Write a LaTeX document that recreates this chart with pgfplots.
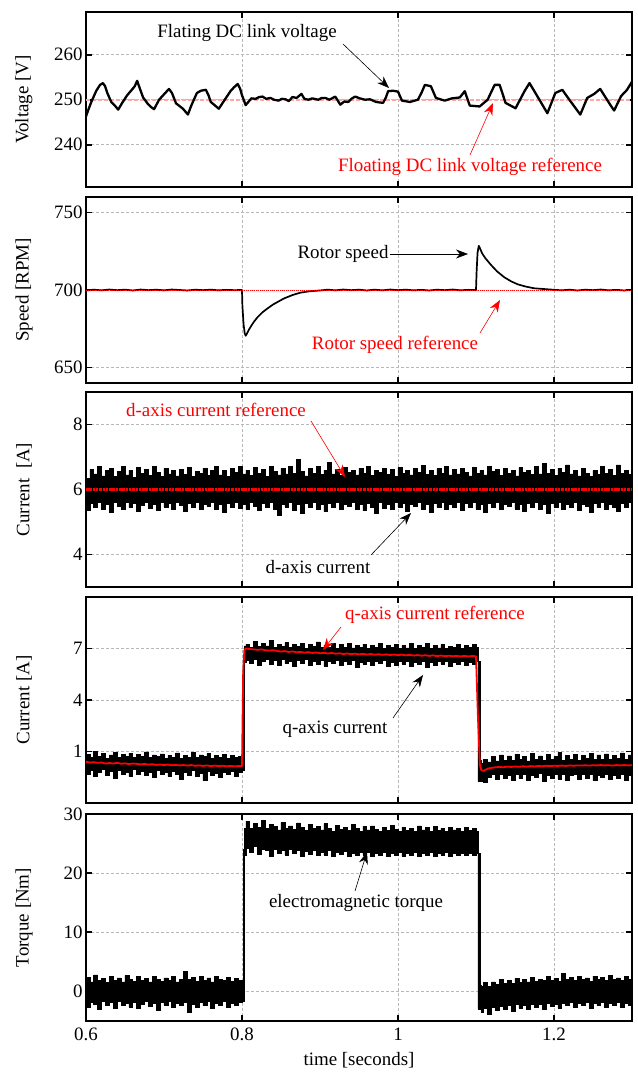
\documentclass[border=0pt]{standalone}
\usepackage{fontspec}
\setmainfont{Liberation Serif}
\usepackage{pgfplots}
\pgfplotsset{compat=1.18}
\usepackage{pgfplotstable}
\usetikzlibrary{arrows.meta}
\newcommand\fs{\fontsize{19}{22}\selectfont}

\pgfplotstableread{
t v
0.600 246.3
0.6035 248
0.6068 249.5
0.6132 252
0.618 253.3
0.6218 253.7
0.6245 253
0.6273 251.5
0.6324 249.5
0.637 248.7
0.6413 247.8
0.6464 249.3
0.6528 251
0.6592 252.3
0.6625 253
0.6656 254.2
0.669 252.5
0.6732 250.5
0.6796 249
0.684 248.3
0.6873 247.9
0.6937 250
0.700 251.2
0.7064 252.4
0.7102 251.5
0.7154 249.2
0.7243 248
0.7307 246.7
0.7345 248.5
0.7383 250
0.7422 251.5
0.7473 252
0.7537 252.2
0.757 251
0.760 249.5
0.7703 248
0.7779 250
0.7856 252
0.790 252.8
0.7945 253.5
0.7975 252.5
0.800 251
0.8047 248.8
0.8086 249.6
0.812 250.3
0.8175 250.2
0.822 250.6
0.8264 250.7
0.831 250.2
0.8366 250.4
0.841 250.0
0.8469 249.8
0.851 250.2
0.8558 250.1
0.860 249.7
0.8647 250.6
0.870 250.4
0.8762 251.3
0.880 250.2
0.8852 250.0
0.890 250.3
0.8979 250.0
0.9025 250.4
0.9069 250.4
0.912 250.0
0.9196 250.7
0.926 248.9
0.931 249.6
0.9362 249.5
0.941 250.3
0.9452 250.7
0.951 250.3
0.9579 250.0
0.964 250.1
0.972 249.5
0.9809 249.3
0.9845 250.5
0.9873 251.9
0.9936 252.0
1.000 251.8
1.0051 249.8
1.0153 249.5
1.0255 250.0
1.030 251.5
1.0345 253.3
1.0422 253.0
1.0486 250.4
1.060 249.8
1.069 250.3
1.0792 250.5
1.0856 251.9
1.092 248.7
1.1047 248.5
1.1149 250.0
1.1239 253.3
1.1303 253.3
1.1379 249.3
1.1507 248.1
1.1622 251.9
1.1686 253.7
1.1813 250.0
1.1915 247.0
1.2017 251.5
1.2107 252.2
1.2197 250.0
1.2337 246.7
1.2426 250.4
1.2516 251.3
1.2592 252.4
1.2720 248.9
1.2771 247.6
1.2860 250.8
1.2936 252.2
1.300 254.0
}\vtab

\pgfplotstableread{
t s
0.600 699.7
0.610 700.2
0.620 699.8
0.630 700.3
0.640 699.9
0.650 700.2
0.660 699.7
0.670 700.3
0.680 699.9
0.690 700.2
0.700 699.8
0.710 700.3
0.720 700.0
0.730 699.7
0.740 700.2
0.750 699.9
0.760 700.2
0.770 699.8
0.780 700.1
0.790 699.9
0.800 700.0
0.8005 690
0.802 678
0.8035 672
0.8047 670.5
0.806 671.5
0.809 674.5
0.812 677
0.8153 679.5
0.820 682.5
0.826 685.5
0.8324 688
0.840 690.7
0.8536 694.5
0.865 696.8
0.8749 698.3
0.887 699.2
0.900 699.7
0.910 700.2
0.920 699.8
0.930 700.3
0.940 699.9
0.950 700.2
0.960 699.7
0.970 700.2
0.980 699.8
0.990 700.3
1.000 699.9
1.010 700.2
1.020 699.8
1.030 700.1
1.040 699.7
1.050 700.2
1.060 699.9
1.070 700.3
1.080 699.8
1.090 700.1
1.100 699.9
1.1008 712
1.102 724
1.1035 728.5
1.105 727
1.108 723.5
1.112 720.5
1.1192 716.2
1.127 712
1.1363 708.2
1.145 705.6
1.1533 703.7
1.163 702.3
1.1746 701.1
1.1958 700.3
1.210 699.8
1.220 700.2
1.230 699.7
1.240 700.2
1.250 699.9
1.260 700.3
1.270 699.8
1.280 700.1
1.290 699.7
1.300 700.2
}\stab

\pgfplotstableread{
t u l
0.600 6.35 5.35
0.605 6.62 5.58
0.610 6.48 5.45
0.615 6.70 5.62
0.620 6.42 5.40
0.625 6.58 5.55
0.630 6.66 5.30
0.635 6.40 5.60
0.640 6.55 5.48
0.645 6.72 5.38
0.650 6.45 5.62
0.655 6.60 5.44
0.660 6.38 5.57
0.665 6.68 5.33
0.670 6.50 5.52
0.675 6.62 5.60
0.680 6.44 5.42
0.685 6.70 5.56
0.690 6.52 5.36
0.695 6.40 5.60
0.700 6.65 5.46
0.705 6.48 5.58
0.710 6.58 5.40
0.715 6.42 5.62
0.720 6.62 5.50
0.725 6.46 5.34
0.730 6.68 5.58
0.735 6.40 5.45
0.740 6.56 5.60
0.745 6.50 5.38
0.750 6.66 5.55
0.755 6.43 5.48
0.760 6.58 5.62
0.765 6.70 5.40
0.770 6.45 5.56
0.775 6.60 5.30
0.780 6.40 5.58
0.785 6.64 5.46
0.790 6.52 5.60
0.795 6.72 5.42
0.800 6.48 5.55
0.805 6.60 5.38
0.810 6.44 5.60
0.815 6.68 5.48
0.820 6.50 5.35
0.825 6.62 5.58
0.830 6.40 5.45
0.835 6.70 5.60
0.840 6.55 5.40
0.845 6.45 5.22
0.850 6.66 5.55
0.855 6.48 5.46
0.860 6.72 5.60
0.865 6.50 5.36
0.870 6.92 5.55
0.875 6.56 5.28
0.880 6.42 5.58
0.885 6.65 5.44
0.890 6.50 5.60
0.895 6.70 5.40
0.900 6.46 5.55
0.905 6.60 5.32
0.910 6.84 5.58
0.915 6.48 5.45
0.920 6.62 5.60
0.925 6.44 5.38
0.930 6.68 5.55
0.935 6.52 5.48
0.940 6.58 5.60
0.945 6.45 5.40
0.950 6.66 5.56
0.955 6.50 5.35
0.960 6.70 5.58
0.965 6.44 5.46
0.970 6.60 5.28
0.975 6.52 5.60
0.980 6.66 5.42
0.985 6.46 5.55
0.990 6.62 5.38
0.995 6.40 5.60
1.000 6.68 5.45
1.005 6.50 5.58
1.010 6.60 5.34
1.015 6.45 5.56
1.020 6.66 5.48
1.025 6.52 5.60
1.030 6.74 5.40
1.035 6.46 5.55
1.040 6.58 5.30
1.045 6.44 5.58
1.050 6.64 5.46
1.055 6.50 5.60
1.060 6.70 5.38
1.065 6.45 5.55
1.070 6.62 5.44
1.075 6.48 5.60
1.080 6.66 5.35
1.085 6.52 5.58
1.090 6.42 5.46
1.095 6.68 5.60
1.100 6.50 5.40
1.105 6.60 5.55
1.110 6.45 5.30
1.115 6.70 5.58
1.120 6.55 5.45
1.125 6.62 5.60
1.130 6.44 5.38
1.135 6.66 5.56
1.140 6.50 5.48
1.145 6.58 5.62
1.150 6.42 5.40
1.155 6.68 5.55
1.160 6.52 5.34
1.165 6.60 5.58
1.170 6.46 5.46
1.175 6.72 5.60
1.180 6.48 5.40
1.185 6.80 5.55
1.190 6.50 5.28
1.195 6.62 5.58
1.200 6.44 5.45
1.205 6.66 5.60
1.210 6.52 5.38
1.215 6.76 5.55
1.220 6.48 5.46
1.225 6.60 5.60
1.230 6.42 5.36
1.235 6.64 5.56
1.240 6.50 5.48
1.245 6.40 5.30
1.250 6.58 5.58
1.255 6.46 5.44
1.260 6.70 5.60
1.265 6.50 5.40
1.270 6.62 5.55
1.275 6.44 5.46
1.280 6.76 5.32
1.285 6.50 5.58
1.290 6.60 5.45
1.295 6.46 5.60
1.300 6.56 5.40
}\dtab

\pgfplotstableread{
t u l r
0.600 0.85 -0.35 0.40
0.605 0.65 -0.10 0.36
0.610 1.02 -0.45 0.38
0.615 0.70 -0.20 0.34
0.620 0.88 -0.05 0.36
0.625 0.62 -0.40 0.30
0.630 0.80 -0.15 0.33
0.635 0.95 -0.55 0.30
0.640 0.66 -0.10 0.34
0.645 0.84 -0.30 0.29
0.650 0.70 -0.20 0.31
0.655 0.90 -0.45 0.27
0.660 0.64 -0.05 0.30
0.665 0.82 -0.35 0.28
0.670 0.72 -0.15 0.25
0.675 0.98 -0.40 0.28
0.680 0.65 -0.20 0.24
0.685 0.80 -0.50 0.26
0.690 0.70 -0.12 0.22
0.695 0.86 -0.35 0.24
0.700 0.62 -0.22 0.21
0.705 0.78 -0.45 0.24
0.710 0.68 -0.15 0.20
0.715 0.92 -0.30 0.22
0.720 0.60 -0.60 0.19
0.725 0.76 -0.20 0.21
0.730 0.66 -0.38 0.18
0.735 0.95 -0.12 0.21
0.740 0.64 -0.45 0.17
0.745 0.80 -0.25 0.19
0.750 0.70 -0.70 0.16
0.755 0.88 -0.18 0.19
0.760 0.62 -0.40 0.15
0.765 0.78 -0.25 0.18
0.770 0.66 -0.50 0.15
0.775 0.84 -0.20 0.17
0.780 0.60 -0.35 0.14
0.785 0.76 -0.15 0.16
0.790 0.64 -0.42 0.14
0.795 0.72 -0.22 0.15
0.800 0.58 -0.10 0.15
0.8015 6.30 -0.10 5.60
0.803 7.15 6.20 6.90
0.805 7.25 6.30 7.00
0.810 7.05 6.15 6.97
0.815 7.40 6.35 6.95
0.820 7.10 6.05 6.92
0.825 7.30 6.25 6.95
0.830 7.15 6.40 6.90
0.835 7.45 6.10 6.88
0.840 7.08 6.30 6.90
0.845 7.25 6.00 6.86
0.850 7.12 6.35 6.82
0.855 7.35 6.15 6.85
0.860 7.05 6.28 6.80
0.865 7.22 5.95 6.83
0.870 7.10 6.30 6.78
0.875 7.30 6.12 6.80
0.880 7.02 6.35 6.76
0.885 7.25 6.05 6.79
0.890 7.10 6.25 6.74
0.895 7.38 6.10 6.77
0.900 7.05 6.30 6.72
0.905 7.20 5.98 6.75
0.910 7.08 6.28 6.71
0.915 7.28 6.15 6.74
0.920 7.02 6.32 6.70
0.925 7.22 6.02 6.72
0.930 7.06 6.25 6.68
0.935 7.32 6.10 6.71
0.940 7.04 6.30 6.67
0.945 7.18 5.92 6.70
0.950 7.08 6.22 6.66
0.955 7.26 6.08 6.69
0.960 7.00 6.28 6.65
0.965 7.20 6.00 6.68
0.970 7.06 6.24 6.64
0.975 7.30 6.12 6.67
0.980 7.02 6.30 6.63
0.985 7.18 5.95 6.66
0.990 7.05 6.22 6.62
0.995 7.25 6.05 6.65
1.000 7.00 6.28 6.61
1.005 7.20 6.10 6.64
1.010 7.04 6.25 6.60
1.015 7.28 5.98 6.63
1.020 7.02 6.22 6.59
1.025 7.16 6.08 6.62
1.030 7.06 6.26 6.58
1.035 7.30 5.90 6.61
1.040 7.00 6.20 6.57
1.045 7.18 6.05 6.60
1.050 7.04 6.25 6.56
1.055 7.24 6.10 6.59
1.060 7.00 6.28 6.55
1.065 7.14 5.96 6.58
1.070 7.05 6.22 6.55
1.075 7.26 6.08 6.57
1.080 7.02 6.25 6.54
1.085 7.18 6.02 6.57
1.090 7.06 6.20 6.54
1.095 7.22 6.10 6.56
1.100 7.08 6.25 6.55
1.1025 6.25 -0.75 3.00
1.105 0.50 -0.70 0.20
1.107 0.30 -0.75 -0.10
1.110 0.55 -0.80 -0.12
1.115 0.40 -0.50 0.00
1.120 0.72 -0.35 0.05
1.125 0.45 -0.60 0.08
1.130 0.80 -0.30 0.10
1.135 0.50 -0.55 0.08
1.140 0.75 -0.40 0.12
1.145 0.48 -0.70 0.10
1.150 0.85 -0.35 0.13
1.155 0.55 -0.55 0.11
1.160 0.70 -0.30 0.14
1.165 0.45 -0.65 0.12
1.170 0.88 -0.40 0.15
1.175 0.52 -0.50 0.13
1.180 0.74 -0.28 0.16
1.185 0.48 -0.72 0.14
1.190 0.82 -0.38 0.17
1.195 0.55 -0.55 0.15
1.200 0.70 -0.30 0.17
1.205 0.95 -0.60 0.16
1.210 0.50 -0.35 0.18
1.215 0.78 -0.68 0.16
1.220 0.56 -0.40 0.19
1.225 0.84 -0.30 0.17
1.230 0.50 -0.62 0.19
1.235 0.76 -0.35 0.18
1.240 0.58 -0.55 0.20
1.245 0.90 -0.32 0.18
1.250 0.52 -0.70 0.20
1.255 0.80 -0.38 0.19
1.260 0.56 -0.52 0.21
1.265 0.86 -0.30 0.19
1.270 0.54 -0.60 0.20
1.275 0.78 -0.36 0.18
1.280 0.60 -0.55 0.21
1.285 0.92 -0.32 0.19
1.290 0.52 -0.66 0.21
1.295 0.80 -0.40 0.19
1.300 0.66 -0.78 0.20
}\qtab

\pgfplotstableread{
t u l
0.600 2.4 -2.6
0.605 1.6 -1.8
0.610 2.8 -2.2
0.615 1.8 -3.0
0.620 2.2 -1.6
0.625 1.5 -2.4
0.630 2.6 -1.9
0.635 1.9 -2.8
0.640 2.3 -1.7
0.645 1.6 -2.3
0.650 2.7 -2.0
0.655 2.0 -2.6
0.660 1.7 -1.8
0.665 2.5 -2.9
0.670 1.8 -2.1
0.675 2.2 -1.7
0.680 1.6 -2.5
0.685 2.6 -2.0
0.690 2.0 -3.2
0.695 1.7 -1.8
0.700 2.3 -2.3
0.705 1.9 -1.7
0.710 2.5 -2.6
0.715 1.6 -2.0
0.720 2.1 -2.4
0.725 3.4 -1.8
0.730 2.0 -3.5
0.735 2.4 -2.1
0.740 1.7 -2.6
0.745 2.6 -1.9
0.750 1.9 -2.4
0.755 2.3 -1.7
0.760 1.6 -2.8
0.765 2.5 -2.0
0.770 2.0 -2.3
0.775 1.8 -1.6
0.780 2.4 -2.7
0.785 1.7 -2.0
0.790 2.2 -2.4
0.795 1.8 -1.8
0.800 1.5 -1.6
0.8015 24.0 -1.6
0.803 27.5 23.0
0.805 28.8 24.2
0.810 27.6 23.5
0.815 28.4 24.6
0.820 27.8 23.2
0.825 28.9 24.0
0.830 27.5 23.8
0.835 28.2 22.9
0.840 27.9 24.1
0.845 27.3 23.4
0.850 28.6 23.9
0.855 27.6 23.1
0.860 28.0 24.0
0.865 27.4 23.3
0.870 28.5 23.8
0.875 27.7 22.8
0.880 27.2 23.7
0.885 28.3 23.2
0.890 27.5 23.9
0.895 27.9 23.0
0.900 27.3 23.6
0.905 28.4 23.1
0.910 27.6 23.8
0.915 27.1 22.9
0.920 28.1 23.5
0.925 27.4 23.2
0.930 27.8 23.7
0.935 27.2 22.8
0.940 28.2 23.4
0.945 27.5 23.0
0.950 27.0 23.6
0.955 27.9 23.1
0.960 27.3 23.5
0.965 28.0 22.9
0.970 27.4 23.4
0.975 27.1 23.0
0.980 27.8 23.6
0.985 27.2 22.9
0.990 28.1 23.3
0.995 27.4 23.0
1.000 27.0 23.5
1.005 27.8 22.8
1.010 27.2 23.4
1.015 27.6 23.0
1.020 27.1 23.5
1.025 28.0 22.9
1.030 27.3 23.3
1.035 27.7 23.0
1.040 27.0 23.5
1.045 27.9 22.8
1.050 27.2 23.3
1.055 27.6 23.1
1.060 27.1 23.5
1.065 27.8 22.9
1.070 27.3 23.4
1.075 27.6 23.0
1.080 27.0 23.4
1.085 27.7 23.1
1.090 27.2 23.3
1.095 27.5 23.0
1.100 27.0 23.4
1.1025 23.4 -3.0
1.105 1.0 -3.0
1.107 0.8 -3.6
1.110 1.5 -2.8
1.115 0.9 -3.8
1.120 1.6 -2.6
1.125 1.2 -3.2
1.130 2.0 -2.5
1.135 1.3 -3.0
1.140 1.8 -2.4
1.145 1.4 -3.4
1.150 2.2 -2.2
1.155 1.5 -2.8
1.160 2.0 -2.3
1.165 1.6 -3.1
1.170 2.4 -2.1
1.175 1.7 -2.7
1.180 2.1 -2.2
1.185 1.8 -3.0
1.190 2.6 -2.0
1.195 1.9 -2.5
1.200 2.2 -2.1
1.205 1.7 -2.8
1.210 3.0 -2.0
1.215 2.0 -2.4
1.220 2.4 -1.9
1.225 1.8 -2.6
1.230 2.5 -2.0
1.235 2.0 -2.3
1.240 2.3 -1.8
1.245 1.7 -2.9
1.250 2.6 -2.0
1.255 2.0 -2.4
1.260 2.4 -1.8
1.265 1.8 -2.6
1.270 2.7 -2.0
1.275 2.1 -2.3
1.280 2.3 -1.8
1.285 1.9 -2.7
1.290 2.6 -2.0
1.295 2.0 -2.4
1.300 2.4 -2.1
}\ttab

\pgfplotsset{panel/.style={
  scale only axis, width=546bp, anchor=north west,
  xmin=0.6, xmax=1.3, xtick={0.6,0.8,1,1.2}, xticklabels={},
  grid=major, grid style={dash pattern=on 3bp off 2bp, color=black!28, line width=0.9bp},
  axis line style={line width=2.2bp, black},
  tick style={line width=1.6bp, black}, major tick length=6bp, tick align=inside,
  tick label style={font=\fs}, label style={font=\fs},
  /pgf/number format/assume math mode=true,
  ylabel style={at={(axis description cs:-0.1136,0.5)}, anchor=center},
},
band/.style={stack plots=y, const plot, fill=black, draw=black, line width=0.6bp}}

\begin{document}
\begin{tikzpicture}
\path[use as bounding box] (0bp,0bp) rectangle (638bp,-1073bp);

% Panel 1: voltage
\begin{axis}[panel, at={(86bp,-12bp)}, height=175bp,
  ymin=230.6, ymax=269.5, ytick={240,250,260}, ylabel={Voltage [V]}]
\addplot[red!35, line width=1.6bp, dash pattern=on 4bp off 2bp] coordinates {(0.6,250) (1.3,250)};
\addplot[black, line width=2.3bp, line join=round] table[x=t,y=v]{\vtab};
\end{axis}

% Panel 2: speed
\begin{axis}[panel, at={(86bp,-197bp)}, height=186bp,
  ymin=640, ymax=760, ytick={650,700,750}, ylabel={Speed [RPM]}]
\addplot[black, line width=1.7bp, line join=round] table[x=t,y=s]{\stab};
\addplot[red, line width=0.7bp, dash pattern=on 1bp off 1bp] coordinates {(0.6,700) (1.3,700)};
\end{axis}

% Panel 3: d-axis current
\begin{axis}[panel, at={(86bp,-392bp)}, height=195bp,
  ymin=3, ymax=9, ytick={4,6,8}, ylabel={Current~ [A]}]
\addplot[stack plots=y, const plot, draw=none] table[x=t,y=l]{\dtab};
\addplot[band] table[x=t,y expr=\thisrow{u}-\thisrow{l}]{\dtab} \closedcycle;
\addplot[red, line width=2.6bp, dash pattern=on 2.5bp off 0.8bp] coordinates {(0.6,6) (1.3,6)};
\end{axis}

% Panel 4: q-axis current
\begin{axis}[panel, at={(86bp,-597bp)}, height=206bp,
  ymin=-2, ymax=10, ytick={1,4,7}, ylabel={Current [A]}]
\addplot[stack plots=y, const plot, draw=none] table[x=t,y=l]{\qtab};
\addplot[band] table[x=t,y expr=\thisrow{u}-\thisrow{l}]{\qtab} \closedcycle;
\addplot[red, line width=1.8bp, line join=round] table[x=t,y=r]{\qtab};
\end{axis}

% Panel 5: torque
\begin{axis}[panel, at={(86bp,-814bp)}, height=207bp,
  ymin=-5, ymax=30, ytick={0,10,20,30}, ylabel={Torque [Nm]},
  xticklabels={0.6,0.8,1,1.2}, xticklabel style={yshift=-3bp},
  xlabel={time [seconds]},
  xlabel style={at={(axis description cs:0.5,0)}, anchor=center, yshift=-39bp}]
\addplot[stack plots=y, const plot, draw=none] table[x=t,y=l]{\ttab};
\addplot[band] table[x=t,y expr=\thisrow{u}-\thisrow{l}]{\ttab} \closedcycle;
\end{axis}

% Annotations
\tikzset{blk/.style={-{Stealth[length=12bp,width=9bp]}, line width=0.6bp, black},
         rd/.style={-{Stealth[length=12bp,width=9bp]}, line width=0.6bp, red}}
\node[font=\fs] at (247bp,-33bp) {Flating DC link voltage};
\draw[blk] (343bp,-44bp) -- (389bp,-88bp);
\node[font=\fs, text=red] at (470bp,-167bp) {Floating DC link voltage reference};
\draw[rd] (470bp,-155bp) -- (493bp,-103bp);

\node[font=\fs] at (343bp,-254bp) {Rotor speed};
\draw[blk] (390bp,-254bp) -- (468bp,-254bp);
\node[font=\fs, text=red] at (395bp,-345bp) {Rotor speed reference};
\draw[rd] (480bp,-333bp) -- (500bp,-300bp);

\node[font=\fs, text=red] at (216bp,-410bp) {d-axis current reference};
\draw[rd] (311bp,-421bp) -- (345bp,-477bp);
\node[font=\fs] at (318bp,-567bp) {d-axis current};
\draw[blk] (371bp,-555bp) -- (411bp,-513bp);

\node[font=\fs, text=red] at (435bp,-615bp) {q-axis current reference};
\draw[rd] (341bp,-627bp) -- (323bp,-650bp);
\node[font=\fs] at (335bp,-729bp) {q-axis current};
\draw[blk] (393bp,-718bp) -- (423bp,-675bp);

\node[font=\fs] at (356bp,-903bp) {electromagnetic torque};
\draw[blk] (355bp,-891bp) -- (367bp,-852bp);
\end{tikzpicture}
\end{document}
